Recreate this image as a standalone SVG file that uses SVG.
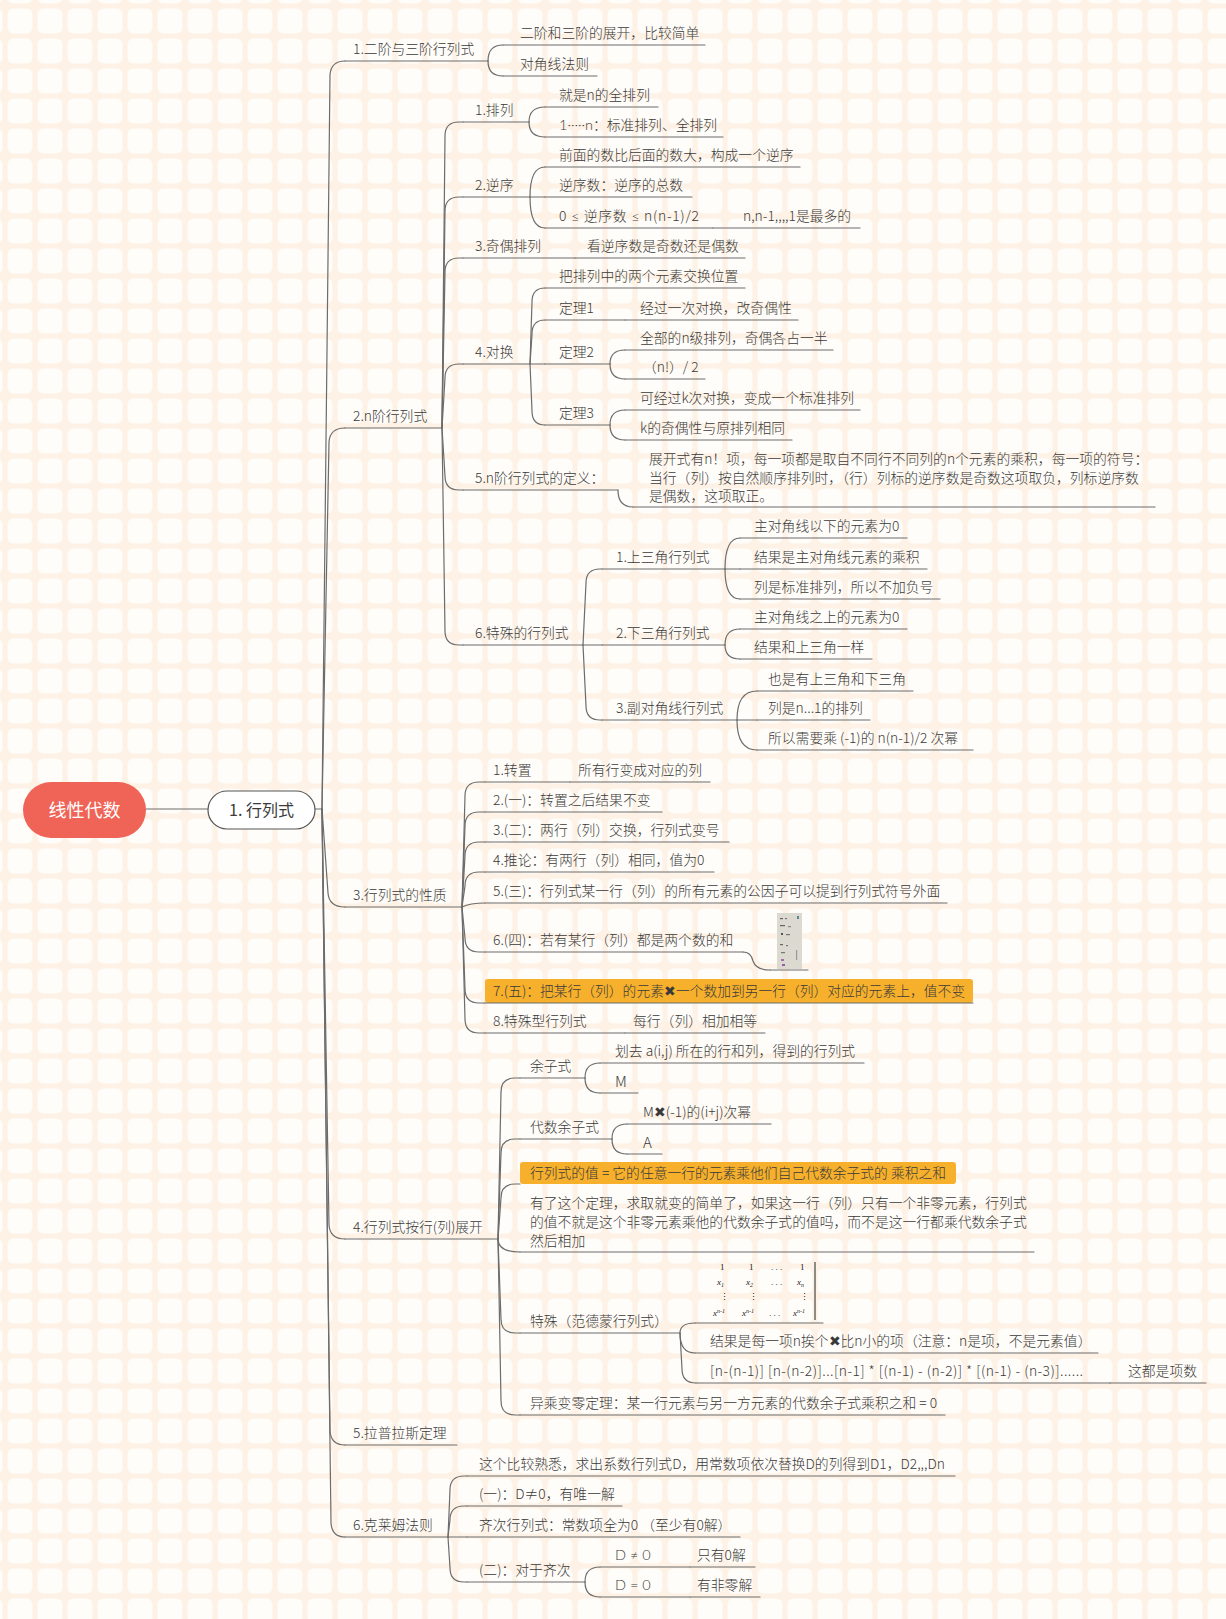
<svg xmlns="http://www.w3.org/2000/svg" width="1226" height="1619" viewBox="0 0 1226 1619">
<defs>
<pattern id="grid" width="30" height="30" patternUnits="userSpaceOnUse" x="5" y="6">
<rect width="30" height="30" fill="#fdf2e5"/>
<rect x="2.5" y="2.5" width="25" height="25" rx="6" fill="#fffdf9"/>
</pattern>
<style>
text{font-family:"Noto Sans CJK SC","Noto Sans",sans-serif;font-size:13.8px;font-weight:300;fill:#3a3a3a}
.u,.c{fill:none;stroke:#6c6c6c;stroke-width:1.2;stroke-linecap:round;stroke-linejoin:round}
.hl{fill:#f6b02c}
.big{font-size:15px}
.lat{font-family:Lato,"Liberation Sans",sans-serif;font-weight:300;font-size:14.5px}
.vm{font-family:"Liberation Serif",serif;font-size:9px;font-weight:400;fill:#222}
.vs{font-size:6px}
</style>
</defs>
<rect width="1226" height="1619" fill="url(#grid)"/>

<g id="connectors">
<path class="c" d="M146,809 L208,809"/>
<path class="c" d="M315,809 L322,809"/>
<path class="c" d="M322,809 L330,75 Q331,61 345,61"/>
<path class="c" d="M322,809 L329,442 Q330,428 345,428"/>
<path class="c" d="M322,809 L328,893 Q329,907 345,907"/>
<path class="c" d="M322,809 L329,1225 Q330,1239 345,1239"/>
<path class="c" d="M322,809 L330,1431 Q331,1445 345,1445"/>
<path class="c" d="M322,809 L331,1523 Q332,1537 345,1537"/>
<path class="c" d="M488,61 Q488,45 503,45"/>
<path class="c" d="M488,61 Q488,76 503,76"/>
<path class="c" d="M442,428 L445,136 Q445,122 459,122 L463,122"/>
<path class="c" d="M442,428 L445,211 Q445,197 459,197 L463,197"/>
<path class="c" d="M442,428 L445,272 Q445,258 459,258 L463,258"/>
<path class="c" d="M442,428 L445,378 Q445,364 459,364 L463,364"/>
<path class="c" d="M442,428 L445,476 Q445,490 459,490 L463,490"/>
<path class="c" d="M442,428 L445,631 Q445,645 459,645 L463,645"/>
<path class="c" d="M529,122 Q529,107 545,107"/>
<path class="c" d="M529,122 Q529,137 545,137"/>
<path class="c" d="M530,197 Q530,167 545,167"/>
<path class="c" d="M530,197 L545,197"/>
<path class="c" d="M530,197 Q530,228 545,228"/>
<path class="c" d="M530,364 L532,302 Q532,288 545,288"/>
<path class="c" d="M530,364 L532,334 Q532,320 545,320"/>
<path class="c" d="M530,364 L545,364"/>
<path class="c" d="M530,364 L532,411 Q532,425 545,425"/>
<path class="c" d="M610,364 Q610,350 625,350"/>
<path class="c" d="M610,364 Q610,379 625,379"/>
<path class="c" d="M610,425 Q610,410 625,410"/>
<path class="c" d="M610,425 Q610,440 625,440"/>
<path class="c" d="M618,490 Q618,507 633,507"/>
<path class="c" d="M583,645 L586,583 Q586,569 600,569 L602,569"/>
<path class="c" d="M583,645 L602,645"/>
<path class="c" d="M583,645 L586,706 Q586,720 600,720 L602,720"/>
<path class="c" d="M725,569 Q725,538 740,538"/>
<path class="c" d="M725,569 L740,569"/>
<path class="c" d="M725,569 Q725,599 740,599"/>
<path class="c" d="M725,645 Q725,629 740,629"/>
<path class="c" d="M725,645 Q725,659 740,659"/>
<path class="c" d="M737,720 Q737,691 757,691"/>
<path class="c" d="M737,720 L757,720"/>
<path class="c" d="M737,720 Q737,750 757,750"/>
<path class="c" d="M462,907 L465,796 Q465,782 479,782 L485,782"/>
<path class="c" d="M462,907 L465,826 Q465,812 479,812 L485,812"/>
<path class="c" d="M462,907 L465,856 Q465,842 479,842 L485,842"/>
<path class="c" d="M462,907 L465,886 Q465,872 479,872 L485,872"/>
<path class="c" d="M462,907 Q470,903 485,903"/>
<path class="c" d="M462,907 L465,938 Q465,952 479,952 L485,952"/>
<path class="c" d="M462,907 L465,989 Q465,1003 479,1003 L485,1003"/>
<path class="c" d="M462,907 L465,1019 Q465,1033 479,1033 L485,1033"/>
<path class="c" d="M743,952 Q751,952 753,961 Q756,970 770,970"/>
<path class="c" d="M498,1239 L501,1092 Q501,1078 515,1078 L520,1078"/>
<path class="c" d="M498,1239 L501,1153 Q501,1139 515,1139 L520,1139"/>
<path class="c" d="M498,1239 L501,1198 Q501,1184 515,1184 L520,1184"/>
<path class="c" d="M498,1239 Q498,1252 520,1252"/>
<path class="c" d="M498,1239 L501,1319 Q501,1333 515,1333 L520,1333"/>
<path class="c" d="M498,1239 L501,1401 Q501,1415 515,1415 L520,1415"/>
<path class="c" d="M585,1078 Q585,1063 600,1063"/>
<path class="c" d="M585,1078 Q585,1093 600,1093"/>
<path class="c" d="M612,1139 Q612,1124 627,1124"/>
<path class="c" d="M612,1139 Q612,1154 627,1154"/>
<path class="c" d="M680,1333 Q680,1323 695,1323"/>
<path class="c" d="M680,1333 Q680,1353 695,1353"/>
<path class="c" d="M680,1333 L682,1369 Q682,1383 696,1383"/>
<path class="c" d="M448,1537 L450,1490 Q450,1476 464,1476 L467,1476"/>
<path class="c" d="M448,1537 L450,1520 Q450,1506 464,1506 L467,1506"/>
<path class="c" d="M448,1537 L467,1537"/>
<path class="c" d="M448,1537 L450,1568 Q450,1582 464,1582 L467,1582"/>
<path class="c" d="M585,1582 Q585,1567 600,1567"/>
<path class="c" d="M585,1582 Q585,1597 600,1597"/>
</g>

<g id="root">
<rect x="23" y="782" width="123" height="56" rx="28" fill="#ef6456"/>
<text x="84.5" y="816.5" text-anchor="middle" style="fill:#fff;font-size:18px;font-weight:400">线性代数</text>
</g>
<g id="n-hanglieshi">
<rect x="208" y="791" width="107" height="38" rx="19" fill="#fff" stroke="#555" stroke-width="1.2"/>
<text x="261.5" y="815.5" text-anchor="middle" style="font-size:16px;font-weight:400">1. 行列式</text>
</g>

<g id="b1"><text x="353" y="54">1.二阶与三阶行列式</text><path class="u" d="M345,61 H488"/></g>
<g id="b1-1"><text x="520" y="38">二阶和三阶的展开，比较简单</text><path class="u" d="M503,45 H705"/></g>
<g id="b1-2"><text x="520" y="69">对角线法则</text><path class="u" d="M503,76 H597"/></g>

<g id="b2"><text x="353" y="421">2.n阶行列式</text><path class="u" d="M345,428 H442"/></g>
<g id="b2-1"><text x="475" y="115">1.排列</text><path class="u" d="M463,122 H529"/></g>
<g id="b2-1-1"><text x="559" y="100">就是n的全排列</text><path class="u" d="M545,107 H658"/></g>
<g id="b2-1-2"><text x="559" y="130"><tspan class="lat">1·····n</tspan>：标准排列、全排列</text><path class="u" d="M545,137 H723"/></g>
<g id="b2-2"><text x="475" y="190">2.逆序</text><path class="u" d="M463,197 H530"/></g>
<g id="b2-2-1"><text x="559" y="160">前面的数比后面的数大，构成一个逆序</text><path class="u" d="M545,167 H800"/></g>
<g id="b2-2-2"><text x="559" y="190">逆序数：逆序的总数</text><path class="u" d="M545,197 H692"/></g>
<g id="b2-2-3"><text x="559" y="221" textLength="140" lengthAdjust="spacing">0 <tspan class="lat">≤</tspan> 逆序数 <tspan class="lat">≤</tspan> n(n-1)/2</text><path class="u" d="M545,228 H713"/></g>
<g id="b2-2-3-1"><text x="743" y="221">n,n-1,,,,1是最多的</text><path class="u" d="M713,228 H860"/></g>
<g id="b2-3"><text x="475" y="251">3.奇偶排列</text><path class="u" d="M463,258 H575"/></g>
<g id="b2-3-1"><text x="587" y="251">看逆序数是奇数还是偶数</text><path class="u" d="M575,258 H745"/></g>
<g id="b2-4"><text x="475" y="357">4.对换</text><path class="u" d="M463,364 H530"/></g>
<g id="b2-4-1"><text x="559" y="281">把排列中的两个元素交换位置</text><path class="u" d="M545,288 H745"/></g>
<g id="b2-4-2"><text x="559" y="313">定理1</text><path class="u" d="M545,320 H625"/></g>
<g id="b2-4-2-1"><text x="640" y="313">经过一次对换，改奇偶性</text><path class="u" d="M625,320 H798"/></g>
<g id="b2-4-3"><text x="559" y="357">定理2</text><path class="u" d="M545,364 H610"/></g>
<g id="b2-4-3-1"><text x="640" y="343">全部的n级排列，奇偶各占一半</text><path class="u" d="M625,350 H833"/></g>
<g id="b2-4-3-2"><text x="643" y="372">（n!）/ 2</text><path class="u" d="M625,379 H705"/></g>
<g id="b2-4-4"><text x="559" y="418">定理3</text><path class="u" d="M545,425 H610"/></g>
<g id="b2-4-4-1"><text x="640" y="403">可经过k次对换，变成一个标准排列</text><path class="u" d="M625,410 H860"/></g>
<g id="b2-4-4-2"><text x="640" y="433">k的奇偶性与原排列相同</text><path class="u" d="M625,440 H792"/></g>
<g id="b2-5"><text x="475" y="483">5.n阶行列式的定义：</text><path class="u" d="M463,490 H618"/></g>
<g id="b2-5-1">
<text x="649" y="464">展开式有n！项，每一项都是取自不同行不同列的n个元素的乘积，每一项的符号：</text>
<text x="649" y="483">当行（列）按自然顺序排列时，（行）列标的逆序数是奇数这项取负，列标逆序数</text>
<text x="649" y="501">是偶数，这项取正。</text>
<path class="u" d="M633,507 H1155"/></g>
<g id="b2-6"><text x="475" y="638">6.特殊的行列式</text><path class="u" d="M463,645 H583"/></g>
<g id="b2-6-1"><text x="616" y="562">1.上三角行列式</text><path class="u" d="M602,569 H725"/></g>
<g id="b2-6-1-1"><text x="754" y="531">主对角线以下的元素为0</text><path class="u" d="M740,538 H907"/></g>
<g id="b2-6-1-2"><text x="754" y="562">结果是主对角线元素的乘积</text><path class="u" d="M740,569 H927"/></g>
<g id="b2-6-1-3"><text x="754" y="592">列是标准排列，所以不加负号</text><path class="u" d="M740,599 H940"/></g>
<g id="b2-6-2"><text x="616" y="638">2.下三角行列式</text><path class="u" d="M602,645 H725"/></g>
<g id="b2-6-2-1"><text x="754" y="622">主对角线之上的元素为0</text><path class="u" d="M740,629 H907"/></g>
<g id="b2-6-2-2"><text x="754" y="652">结果和上三角一样</text><path class="u" d="M740,659 H872"/></g>
<g id="b2-6-3"><text x="616" y="713">3.副对角线行列式</text><path class="u" d="M602,720 H737"/></g>
<g id="b2-6-3-1"><text x="768" y="684">也是有上三角和下三角</text><path class="u" d="M757,691 H913"/></g>
<g id="b2-6-3-2"><text x="768" y="713">列是n...1的排列</text><path class="u" d="M757,720 H870"/></g>
<g id="b2-6-3-3"><text x="768" y="743">所以需要乘 (-1)的 n(n-1)/2 次幂</text><path class="u" d="M757,750 H973"/></g>

<g id="b3"><text x="353" y="900">3.行列式的性质</text><path class="u" d="M345,907 H462"/></g>
<g id="b3-1"><text x="493" y="775">1.转置</text><path class="u" d="M485,782 H570"/></g>
<g id="b3-1-1"><text x="578" y="775">所有行变成对应的列</text><path class="u" d="M570,782 H710"/></g>
<g id="b3-2"><text x="493" y="805">2.(一)：转置之后结果不变</text><path class="u" d="M485,812 H662"/></g>
<g id="b3-3"><text x="493" y="835">3.(二)：两行（列）交换，行列式变号</text><path class="u" d="M485,842 H729"/></g>
<g id="b3-4"><text x="493" y="865">4.推论：有两行（列）相同，值为0</text><path class="u" d="M485,872 H714"/></g>
<g id="b3-5"><text x="493" y="896">5.(三)：行列式某一行（列）的所有元素的公因子可以提到行列式符号外面</text><path class="u" d="M485,903 H947"/></g>
<g id="b3-6"><text x="493" y="945">6.(四)：若有某行（列）都是两个数的和</text><path class="u" d="M485,952 H743"/></g>
<g id="b3-6-1">
<rect x="777" y="913" width="25" height="56" fill="#dcd9d1"/>
<rect x="780" y="918" width="3" height="1.2" fill="#666"/><rect x="785" y="918" width="2" height="1.2" fill="#777"/>
<rect x="797" y="916" width="2" height="3" fill="#5a8a9a"/>
<rect x="780" y="925" width="5" height="1.2" fill="#666"/><rect x="788" y="926" width="3" height="1.2" fill="#888"/>
<rect x="781" y="933" width="2" height="2" fill="#555"/><rect x="786" y="934" width="4" height="1.2" fill="#777"/>
<rect x="780" y="944" width="3" height="1.2" fill="#666"/><rect x="786" y="945" width="2" height="1.2" fill="#777"/>
<rect x="781" y="952" width="4" height="1.2" fill="#777"/><rect x="796" y="950" width="1.2" height="10" fill="#999"/>
<rect x="781" y="959" width="3" height="2" fill="#a070a8"/><rect x="782" y="964" width="3" height="2" fill="#9a5aa0"/>
<path class="u" d="M770,970 H808"/></g>
<g id="b3-7"><rect class="hl" x="485" y="979" width="488" height="24" rx="3"/><text x="493" y="996" textLength="472" lengthAdjust="spacingAndGlyphs">7.(五)：把某行（列）的元素✖一个数加到另一行（列）对应的元素上，值不变</text><path class="u" d="M485,1003 H973"/></g>
<g id="b3-8"><text x="493" y="1026">8.特殊型行列式</text><path class="u" d="M485,1033 H625"/></g>
<g id="b3-8-1"><text x="633" y="1026">每行（列）相加相等</text><path class="u" d="M625,1033 H765"/></g>

<g id="b4"><text x="353" y="1232">4.行列式按行(列)展开</text><path class="u" d="M345,1239 H498"/></g>
<g id="b4-1"><text x="530" y="1071">余子式</text><path class="u" d="M520,1078 H585"/></g>
<g id="b4-1-1"><text x="615" y="1056">划去 a(i,j) 所在的行和列，得到的行列式</text><path class="u" d="M600,1063 H864"/></g>
<g id="b4-1-2"><text class="big" x="615" y="1087">M</text><path class="u" d="M600,1093 H638"/></g>
<g id="b4-2"><text x="530" y="1132">代数余子式</text><path class="u" d="M520,1139 H612"/></g>
<g id="b4-2-1"><text x="643" y="1117">M✖(-1)的(i+j)次幂</text><path class="u" d="M627,1124 H771"/></g>
<g id="b4-2-2"><text class="big" x="643" y="1148">A</text><path class="u" d="M627,1154 H662"/></g>
<g id="b4-3"><rect class="hl" x="520" y="1162" width="436" height="22" rx="3"/><text x="530" y="1178" textLength="416" lengthAdjust="spacingAndGlyphs">行列式的值 = 它的任意一行的元素乘他们自己代数余子式的 乘积之和</text></g>
<g id="b4-4">
<text x="530" y="1208">有了这个定理，求取就变的简单了，如果这一行（列）只有一个非零元素，行列式</text>
<text x="530" y="1227">的值不就是这个非零元素乘他的代数余子式的值吗，而不是这一行都乘代数余子式</text>
<text x="530" y="1246">然后相加</text>
<path class="u" d="M520,1252 H1034"/></g>
<g id="b4-5"><text x="530" y="1326">特殊（范德蒙行列式）</text><path class="u" d="M520,1333 H680"/></g>
<g id="b4-5-1">
<text class="vm" x="720" y="1270">1</text><text class="vm" x="749" y="1270">1</text><text class="vm" x="771" y="1270">. . .</text><text class="vm" x="800" y="1270">1</text>
<text class="vm" x="717" y="1285" font-style="italic">x<tspan class="vs" dy="1.5">1</tspan></text>
<text class="vm" x="746" y="1285" font-style="italic">x<tspan class="vs" dy="1.5">2</tspan></text>
<text class="vm" x="771" y="1285">. . .</text>
<text class="vm" x="797" y="1285" font-style="italic">x<tspan class="vs" dy="1.5">n</tspan></text>
<text class="vm" x="720" y="1300">⋮</text><text class="vm" x="749" y="1300">⋮</text><text class="vm" x="800" y="1300">⋮</text>
<text class="vm" x="713" y="1316" font-style="italic">x<tspan class="vs" dy="-3.5">n-1</tspan></text>
<text class="vm" x="742" y="1316" font-style="italic">x<tspan class="vs" dy="-3.5">n-1</tspan></text>
<text class="vm" x="769" y="1316">. . .</text>
<text class="vm" x="793" y="1316" font-style="italic">x<tspan class="vs" dy="-3.5">n-1</tspan></text>
<path d="M815,1262 V1320" stroke="#222" stroke-width="1" fill="none"/>
<path class="u" d="M695,1323 H823"/></g>
<g id="b4-5-2"><text x="710" y="1346">结果是每一项n挨个✖比n小的项（注意：n是项，不是元素值）</text><path class="u" d="M695,1353 H1098"/></g>
<g id="b4-5-3"><text x="710" y="1376" textLength="373" lengthAdjust="spacing">[n-(n-1)] [n-(n-2)]...[n-1] * [(n-1) - (n-2)] * [(n-1) - (n-3)]......</text><path class="u" d="M696,1383 H1110"/></g>
<g id="b4-5-3-1"><text x="1128" y="1376">这都是项数</text><path class="u" d="M1110,1383 H1206"/></g>
<g id="b4-6"><text x="530" y="1408">异乘变零定理：某一行元素与另一方元素的代数余子式乘积之和 = 0</text><path class="u" d="M520,1415 H945"/></g>

<g id="b5"><text x="353" y="1438">5.拉普拉斯定理</text><path class="u" d="M345,1445 H457"/></g>

<g id="b6"><text x="353" y="1530">6.克莱姆法则</text><path class="u" d="M345,1537 H448"/></g>
<g id="b6-1"><text x="479" y="1469">这个比较熟悉，求出系数行列式D，用常数项依次替换D的列得到D1，D2,,,Dn</text><path class="u" d="M467,1476 H955"/></g>
<g id="b6-2"><text x="479" y="1499">(一)：D≠0，有唯一解</text><path class="u" d="M467,1506 H622"/></g>
<g id="b6-3"><text x="479" y="1530">齐次行列式：常数项全为0 （至少有0解）</text><path class="u" d="M467,1537 H740"/></g>
<g id="b6-4"><text x="479" y="1575">(二)：对于齐次</text><path class="u" d="M467,1582 H585"/></g>
<g id="b6-4-1"><text class="lat" x="615" y="1560">D  ≠  0</text><path class="u" d="M600,1567 H690"/></g>
<g id="b6-4-1-1"><text x="697" y="1560">只有0解</text><path class="u" d="M690,1567 H755"/></g>
<g id="b6-4-2"><text class="lat" x="615" y="1590">D  =  0</text><path class="u" d="M600,1597 H690"/></g>
<g id="b6-4-2-1"><text x="697" y="1590">有非零解</text><path class="u" d="M690,1597 H760"/></g>
</svg>
